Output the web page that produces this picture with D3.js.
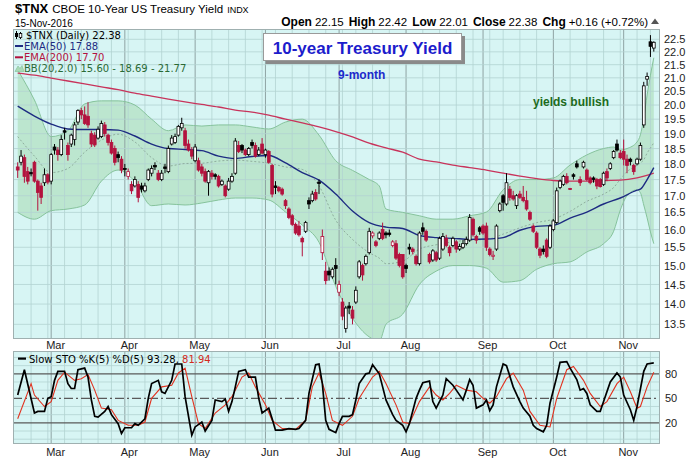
<!DOCTYPE html>
<html>
<head>
<meta charset="utf-8">
<script src="https://cdn.jsdelivr.net/npm/d3@7"></script>
<style>
body { margin: 0; background: #fff; }
svg text { font-family: "Liberation Sans", Arial, sans-serif; }
.leg { font-family: "DejaVu Sans", Verdana, sans-serif; font-size: 10px; }
</style>
</head>
<body>
<svg id="chart" width="700" height="460"></svg>
<script>
// trading calendar, Feb 16 - Nov 15 2016 (market holidays left out)
var firstDay = "2016-02-16";
var lastDay = "2016-11-15";
var holidays = ["2016-03-25", "2016-05-30", "2016-07-04", "2016-09-05", "2016-11-11"];

// daily candles for $TNX
var open = [17.90,18.05,18.20,17.75,17.72,18.05,17.45,17.30,17.40,17.65,
  17.45,18.55,18.45,18.30,19.10,18.60,18.65,18.80,19.40,19.80,
  19.65,19.60,19.00,18.95,18.85,18.90,19.30,18.95,18.70,18.50,
  18.30,18.15,17.85,17.60,17.35,17.30,17.35,17.30,17.15,17.50,
  17.70,17.95,17.70,17.50,17.90,17.75,18.65,18.70,18.95,19.20,
  19.10,18.65,18.45,18.10,18.10,17.90,17.75,17.40,17.70,17.65,
  17.60,17.35,17.30,17.20,17.45,17.70,18.60,18.60,18.45,18.30,
  18.70,18.60,18.30,18.65,18.30,18.40,17.95,17.30,17.25,17.20,
  16.85,16.60,16.40,16.15,16.10,15.75,15.95,16.85,16.85,17.10,
  17.42,15.35,14.85,14.85,14.70,15.00,14.30,14.05,13.40,13.95,
  13.85,14.05,14.70,15.00,15.05,15.35,15.82,15.65,15.75,16.00,
  15.90,15.90,15.55,15.60,15.30,15.30,15.00,15.50,15.45,15.25,
  15.05,16.05,15.95,15.30,15.15,15.35,15.20,15.45,15.75,15.50,
  15.55,15.65,15.45,15.50,15.60,15.70,16.30,15.80,16.05,16.10,
  16.10,15.45,15.25,15.45,16.55,17.00,16.75,17.20,17.00,16.70,
  17.05,16.95,16.85,16.50,16.10,15.90,15.45,15.45,15.70,15.50,
  16.00,16.20,17.25,17.35,17.60,17.22,17.65,18.00,17.50,17.90,
  17.80,17.55,17.55,17.50,17.50,17.35,17.75,17.85,18.20,18.65,
  18.35,18.40,18.15,18.15,17.95,18.00,18.15,19.30,20.95,22.40,
  22.15];
var high = [18.05,18.45,18.30,17.90,17.85,18.10,17.50,17.40,17.85,17.70,
  18.35,18.65,18.55,18.95,19.20,18.70,19.00,19.40,19.85,19.90,
  19.95,20.10,19.10,19.05,19.25,19.45,19.40,19.00,18.80,18.60,
  18.40,18.25,18.00,17.85,17.45,17.60,17.45,17.40,17.40,17.85,
  17.95,18.05,17.80,17.80,18.00,18.60,18.95,19.00,19.30,19.55,
  19.20,18.80,18.55,18.65,18.20,18.00,17.85,17.80,17.80,17.70,
  17.65,17.50,17.35,17.55,17.70,18.85,18.75,18.65,18.50,18.55,
  18.80,18.70,18.55,18.85,18.50,18.45,18.00,17.45,17.30,17.25,
  16.90,16.65,16.45,16.20,16.25,15.80,16.25,16.95,17.15,17.20,
  17.50,16.00,15.10,14.95,14.95,15.20,14.60,14.15,13.95,14.05,
  13.95,14.45,15.15,15.05,15.30,16.05,15.95,15.70,15.95,16.20,
  15.95,16.00,15.70,15.70,15.35,15.30,15.05,15.60,15.50,15.30,
  15.95,16.20,16.00,15.35,15.45,15.40,15.80,15.90,15.85,15.55,
  15.80,15.70,15.60,15.70,15.80,16.45,16.35,15.85,16.10,16.15,
  16.20,15.50,15.40,16.15,16.80,17.05,17.70,17.30,17.15,17.05,
  17.15,17.30,17.15,16.55,16.15,15.95,15.50,15.55,15.75,16.15,
  16.30,17.25,17.50,17.65,17.70,17.24,17.70,18.10,17.60,18.10,
  17.85,17.60,17.60,17.55,17.55,17.75,17.85,18.05,18.45,18.80,
  18.45,18.80,18.30,18.20,18.00,18.20,18.70,20.85,21.20,22.67,
  22.42];
var low = [17.55,17.95,17.40,17.35,17.60,17.40,16.55,16.75,17.30,17.35,
  17.35,18.30,18.10,18.25,18.80,18.10,18.55,18.60,19.30,19.50,
  19.30,19.20,18.55,18.55,18.80,18.85,18.90,18.60,18.30,17.95,
  18.05,17.70,17.60,17.50,17.05,17.25,16.80,17.10,17.10,17.45,
  17.60,17.80,17.45,17.45,17.70,17.70,18.60,18.65,18.90,19.10,
  18.50,18.40,18.15,18.05,17.75,17.60,17.40,17.00,17.50,17.50,
  17.25,17.30,16.95,17.15,17.40,17.65,18.35,18.35,18.25,18.25,
  18.50,18.20,18.25,18.30,18.20,18.00,16.95,17.05,17.10,17.00,
  16.60,16.30,16.10,15.85,15.80,15.25,15.90,16.60,16.80,16.85,
  17.05,15.15,14.50,14.60,14.65,14.50,14.20,13.60,13.30,13.75,
  13.50,14.00,14.65,14.60,15.00,15.30,15.75,15.50,15.70,15.70,
  15.75,15.80,15.50,15.15,14.95,14.65,14.80,15.30,15.30,15.00,
  15.00,15.85,15.65,15.05,15.10,15.10,15.15,15.40,15.50,15.25,
  15.50,15.35,15.40,15.45,15.55,15.65,15.80,15.60,15.85,15.85,
  15.40,15.25,15.15,15.40,16.50,16.55,16.70,16.85,16.85,16.60,
  16.90,16.80,16.55,16.25,15.90,15.45,15.20,15.30,15.20,15.45,
  15.95,16.15,17.20,17.30,17.35,17.18,17.50,17.85,17.30,17.85,
  17.45,17.35,17.40,17.20,17.25,17.30,17.45,17.80,18.15,18.40,
  18.15,17.95,17.70,17.95,17.65,17.95,18.10,19.20,20.70,21.80,
  22.01];
var close = [17.80,18.25,17.60,17.45,17.68,17.45,17.10,16.95,17.65,17.42,
  18.30,18.45,18.30,18.80,19.05,18.30,18.95,19.30,19.80,19.65,
  19.35,19.30,18.65,18.62,19.15,19.35,19.00,18.70,18.35,18.05,
  18.20,17.80,17.82,17.75,17.15,17.50,16.95,17.20,17.30,17.80,
  17.85,17.90,17.50,17.70,17.85,18.50,18.85,18.90,19.25,19.35,
  18.60,18.45,18.25,18.55,17.80,17.70,17.45,17.75,17.60,17.60,
  17.30,17.45,17.00,17.45,17.60,18.75,18.40,18.45,18.30,18.50,
  18.60,18.25,18.45,18.35,18.45,18.05,17.05,17.25,17.15,17.05,
  16.70,16.35,16.15,15.90,15.85,15.65,16.20,16.75,17.05,16.90,
  17.38,15.80,14.60,14.75,14.90,14.92,14.50,13.70,13.90,13.90,
  13.65,14.35,15.10,14.75,15.25,15.95,15.90,15.55,15.90,15.75,
  15.85,15.86,15.65,15.20,15.00,14.70,14.92,15.45,15.38,15.05,
  15.90,15.95,15.70,15.10,15.40,15.15,15.75,15.80,15.55,15.35,
  15.75,15.45,15.52,15.60,15.72,16.35,15.85,15.70,15.95,15.90,
  15.50,15.30,15.28,16.10,16.75,16.80,17.40,16.95,16.90,17.00,
  16.95,16.85,16.60,16.30,15.95,15.50,15.28,15.38,15.25,16.10,
  16.25,17.15,17.45,17.60,17.40,17.20,17.60,17.90,17.40,18.05,
  17.50,17.40,17.50,17.30,17.28,17.70,17.55,18.00,18.40,18.45,
  18.20,18.15,17.95,18.08,17.75,18.15,18.60,20.70,21.05,22.22,
  22.38];

// overlays, read at sample days (index into the trading calendar)
var ema50Days = [0,5,10,15,20,25,30,35,40,45,50,55,60,65,70,75,80,85,90,95,
  100,105,110,115,120,125,130,135,140,145,150,155,160,165,170,175,180,185,186,188,190];
var ema50 = [19.96,19.61,19.33,19.16,19.14,19.14,19.12,18.92,18.65,18.50,
  18.47,18.43,18.25,18.17,18.24,18.27,18.03,17.72,17.48,17.05,
  16.54,16.20,16.07,16.03,15.83,15.77,15.75,15.72,15.73,15.77,
  15.98,16.09,16.12,16.33,16.51,16.75,16.93,17.17,17.20,17.50,17.88];
var ema200Days = [0,5,10,15,20,25,30,35,40,45,50,55,60,65,70,75,80,85,90,95,
  100,105,110,115,120,125,130,135,140,145,150,155,160,165,170,175,180,185,190];
var ema200 = [21.18,21.10,20.99,20.88,20.77,20.66,20.56,20.43,20.32,20.21,
  20.11,20.02,19.93,19.82,19.75,19.64,19.50,19.37,19.23,19.07,
  18.89,18.68,18.52,18.38,18.15,18.06,17.96,17.88,17.80,17.70,
  17.61,17.53,17.47,17.45,17.45,17.47,17.48,17.55,17.70];
var bbDays = [0,5,10,15,20,25,30,35,40,45,50,55,60,65,70,75,80,85,90,95,
  100,105,108,110,115,120,125,130,135,140,145,150,155,160,165,170,175,178,180,182,
  185,186,187,188,189,190];
var bbUpper = [21.30,20.18,18.90,19.10,20.04,20.15,20.15,20.00,19.50,19.10,
  19.30,19.26,19.30,19.30,19.23,19.16,19.40,19.50,18.95,18.10,
  17.79,17.50,17.30,16.60,16.50,16.40,16.30,16.30,16.40,16.51,
  17.18,17.50,17.50,17.55,17.96,18.29,18.50,18.55,18.45,18.50,
  18.72,18.96,19.54,20.36,21.10,21.77];
var bbMiddle = [18.90,18.25,17.72,17.85,18.38,18.78,18.98,18.72,18.20,17.93,
  18.01,18.02,18.09,18.12,18.08,18.02,17.90,17.82,17.30,16.27,
  15.72,15.35,15.20,15.05,15.12,15.45,15.57,15.65,15.70,15.72,
  15.87,16.05,16.20,16.30,16.53,16.83,17.05,17.25,17.51,17.75,
  17.95,18.03,18.13,18.35,18.52,18.69];
var bbLower = [16.50,16.30,16.55,16.60,16.72,17.45,17.80,17.44,16.70,16.75,
  16.72,16.78,16.87,16.93,16.93,16.87,16.51,16.13,15.64,14.45,
  13.65,13.20,13.10,13.50,13.75,14.50,14.85,15.00,15.00,14.93,
  14.56,14.60,14.90,15.05,15.10,15.37,15.60,15.95,16.57,17.00,
  17.18,17.09,16.72,16.34,15.93,15.60];

// slow stochastics, lower panel
var stoKDays = [0,2,5,6,8,9,10,11,12,14,15,16,17,18,20,21,22,23,24,26,
  27,28,30,31,32,34,35,36,38,39,40,42,43,44,46,47,49,50,52,53,
  55,56,58,59,61,62,63,64,65,66,68,69,71,72,73,75,76,77,79,81,
  83,84,86,87,89,90,91,92,93,95,96,97,99,100,101,102,104,105,106,108,
  109,110,112,113,115,116,117,119,120,121,123,124,125,127,128,130,131,133,134,135,
  136,137,139,140,141,142,143,145,146,148,150,151,153,154,155,157,158,159,161,162,
  164,165,167,168,169,170,171,173,174,175,177,179,180,181,183,184,185,187,188,190];
var stoK = [54,85,32,34,34,50,52,72,83,83,68,62,62,85,87,76,48,28,27,34,
  40,30,19,7,14,14,19,17,25,50,68,72,58,56,72,92,92,52,5,15,
  21,10,23,48,46,49,34,46,64,83,85,76,76,50,32,38,25,11,11,13,
  12,13,23,56,91,92,68,23,12,8,19,28,28,30,48,68,80,81,91,80,
  64,48,30,23,17,9,19,50,60,69,71,46,38,54,74,66,60,48,60,73,
  66,38,42,48,35,42,64,92,90,64,46,38,28,17,13,9,17,44,76,94,
  95,87,73,60,62,56,42,34,34,46,70,81,76,54,36,23,40,83,92,93.28];
var stoDDays = [0,4,5,8,10,12,14,17,19,21,23,25,28,30,33,36,38,40,43,46,
  48,50,52,54,56,59,62,64,67,69,71,74,76,79,83,86,88,90,92,94,
  97,100,102,106,108,110,113,115,117,120,123,125,127,129,131,134,137,139,141,143,
  146,148,151,153,156,159,161,164,166,169,171,174,176,179,181,183,185,186,188,190];
var stoD = [25,68,54,40,46,72,82,72,74,79,60,38,36,23,17,17,21,50,64,66,
  81,87,52,19,13,32,42,52,76,81,64,42,23,13,12,23,64,81,56,23,
  17,28,50,76,83,68,42,21,19,46,64,54,48,56,66,60,58,50,44,52,
  74,81,60,34,17,15,50,85,89,72,56,40,46,68,76,58,38,40,64,81.94];

// tick labels
var priceTicks = [13.5,14.0,14.5,15.0,15.5,16.0,16.5,17.0,17.5,18.0,18.5,19.0,19.5,20.0,20.5,21.0,21.5,22.0,22.5];
var stoTicks = [20,50,80];
var stoGrid = [0,10,30,40,60,70,90,100];

var parse = d3.timeParse("%Y-%m-%d");
var fmt = d3.timeFormat("%Y-%m-%d");
var days = d3.timeDay.range(parse(firstDay), d3.timeDay.offset(parse(lastDay), 1))
    .filter(function (d) { return d.getDay() > 0 && d.getDay() < 6 && holidays.indexOf(fmt(d)) < 0; });

var L = 13, R = 660, mainTop = 29, mainBot = 339, stoTop = 351, stoBot = 444;
var bg = "#d7f5f4", grid = "#b3d3d2", monthGrid = "#8fa3a3";
var red = "#b3123e";

var x = d3.scaleLinear().domain([0, days.length - 1]).range([17.7, 653.8]);
var y = d3.scaleLog().domain([13.15, 22.92]).range([mainBot, mainTop]);
var ys = d3.scaleLinear().domain([-5.9, 107.9]).range([stoBot, stoTop]);

var svg = d3.select("#chart");
var defs = svg.append("defs");
defs.append("clipPath").attr("id", "clipMain").append("rect")
    .attr("x", L).attr("y", mainTop).attr("width", R - L).attr("height", mainBot - mainTop);
defs.append("clipPath").attr("id", "clipSto").append("rect")
    .attr("x", L).attr("y", stoTop).attr("width", R - L).attr("height", stoBot - stoTop);

// panel backgrounds
[[mainTop, mainBot], [stoTop, stoBot]].forEach(function (p) {
    svg.append("rect").attr("x", L).attr("y", p[0]).attr("width", R - L).attr("height", p[1] - p[0])
        .attr("fill", bg);
});

var main = svg.append("g").attr("clip-path", "url(#clipMain)");
var sto = svg.append("g").attr("clip-path", "url(#clipSto)");

// bollinger band fill
var bb = bbDays.map(function (d, k) { return { i: d, u: bbUpper[k], m: bbMiddle[k], l: bbLower[k] }; });
main.append("path").datum(bb)
    .attr("d", d3.area().curve(d3.curveMonotoneX)
        .x(function (d) { return x(d.i); })
        .y0(function (d) { return y(d.l); })
        .y1(function (d) { return y(d.u); }))
    .attr("fill", "#bce6cf");

// week / month gridlines
var weekIdx = [], monthIdx = [];
days.forEach(function (d, i) {
    if (i === 0) return;
    if (d.getMonth() !== days[i - 1].getMonth()) monthIdx.push(i);
    else if (d.getDay() <= days[i - 1].getDay()) weekIdx.push(i);
});
[[main, mainTop, mainBot], [sto, stoTop, stoBot]].forEach(function (p) {
    p[0].selectAll(null).data(weekIdx).join("line")
        .attr("x1", function (i) { return x(i); }).attr("x2", function (i) { return x(i); })
        .attr("y1", p[1]).attr("y2", p[2]).attr("stroke", grid).attr("stroke-width", 0.8);
    p[0].selectAll(null).data(monthIdx).join("line")
        .attr("x1", function (i) { return x(i); }).attr("x2", function (i) { return x(i); })
        .attr("y1", p[1]).attr("y2", p[2]).attr("stroke", monthGrid).attr("stroke-width", 1);
});
main.selectAll(null).data(priceTicks).join("line")
    .attr("x1", L).attr("x2", R)
    .attr("y1", function (v) { return y(v); }).attr("y2", function (v) { return y(v); })
    .attr("stroke", grid).attr("stroke-width", 0.8);
sto.selectAll(null).data(stoGrid).join("line")
    .attr("x1", L).attr("x2", R)
    .attr("y1", function (v) { return ys(v); }).attr("y2", function (v) { return ys(v); })
    .attr("stroke", grid).attr("stroke-width", 0.8);

// band edges, middle, emas
var lineOf = function (key) {
    return d3.line().curve(d3.curveMonotoneX)
        .x(function (d) { return x(d.i); }).y(function (d) { return y(d[key]); });
};
main.append("path").datum(bb).attr("d", lineOf("u")).attr("fill", "none").attr("stroke", "#86c39c").attr("stroke-width", 1);
main.append("path").datum(bb).attr("d", lineOf("l")).attr("fill", "none").attr("stroke", "#86c39c").attr("stroke-width", 1);
main.append("path").datum(bb).attr("d", lineOf("m")).attr("fill", "none").attr("stroke", "#8fae9e")
    .attr("stroke-width", 1).attr("stroke-dasharray", "2,2");

var e200 = ema200Days.map(function (d, k) { return { i: d, v: ema200[k] }; });
var e50 = ema50Days.map(function (d, k) { return { i: d, v: ema50[k] }; });
main.append("path").datum(e200).attr("d", lineOf("v")).attr("fill", "none").attr("stroke", "#c8335b").attr("stroke-width", 1.3);
main.append("path").datum(e50).attr("d", lineOf("v")).attr("fill", "none").attr("stroke", "#1d2b82").attr("stroke-width", 1.4);

// candles
var bars = days.map(function (d, i) {
    return { i: i, o: open[i], h: high[i], l: low[i], c: close[i], p: i ? close[i - 1] : open[i] };
});
var colorOf = function (d) { return d.c < d.p ? red : "#000"; };
main.selectAll(".wick").data(bars).join("line").attr("class", "wick")
    .attr("x1", function (d) { return x(d.i); }).attr("x2", function (d) { return x(d.i); })
    .attr("y1", function (d) { return y(d.h); }).attr("y2", function (d) { return y(d.l); })
    .attr("stroke", colorOf).attr("stroke-width", 1);
main.selectAll(".body").data(bars).join("rect").attr("class", "body")
    .attr("x", function (d) { return x(d.i) - 1.4; }).attr("width", 2.8)
    .attr("y", function (d) { return y(Math.max(d.o, d.c)); })
    .attr("height", function (d) { return Math.max(1, Math.abs(y(d.o) - y(d.c))); })
    .attr("fill", function (d) { return d.c > d.o ? "#fff" : colorOf(d); })
    .attr("stroke", colorOf).attr("stroke-width", 0.8);

// stochastics
sto.selectAll(null).data(stoTicks).join("line")
    .attr("x1", L).attr("x2", R)
    .attr("y1", function (v) { return ys(v); }).attr("y2", function (v) { return ys(v); })
    .attr("stroke", "#5a5a5a").attr("stroke-width", 1.2)
    .attr("stroke-dasharray", function (v) { return v === 50 ? "9,3,2,3" : null; });
var stoLine = d3.line().x(function (d) { return x(d[0]); }).y(function (d) { return ys(d[1]); });
sto.append("path").datum(d3.zip(stoDDays, stoD)).attr("d", stoLine)
    .attr("fill", "none").attr("stroke", "#e2321f").attr("stroke-width", 1.1);
sto.append("path").datum(d3.zip(stoKDays, stoK)).attr("d", stoLine)
    .attr("fill", "none").attr("stroke", "#000").attr("stroke-width", 1.7);

// panel frames
[[mainTop, mainBot], [stoTop, stoBot]].forEach(function (p) {
    svg.append("rect").attr("x", L + 0.5).attr("y", p[0] + 0.5).attr("width", R - L - 1).attr("height", p[1] - p[0] - 1)
        .attr("fill", "none").attr("stroke", "#9fb0b0");
});

// axes
var styleAxis = function (g) {
    g.select(".domain").remove();
    g.selectAll("text").attr("font-family", "Liberation Sans, Arial, sans-serif").attr("font-size", 11).attr("fill", "#222");
};
svg.append("g").attr("transform", "translate(662,0)")
    .call(d3.axisRight(y).tickValues(priceTicks).tickSize(0).tickPadding(2).tickFormat(d3.format(".1f")))
    .call(styleAxis);
svg.append("g").attr("transform", "translate(662,0)")
    .call(d3.axisRight(ys).tickValues(stoTicks).tickSize(0).tickPadding(3))
    .call(styleAxis);
var monthName = function (i) { return d3.timeFormat("%b")(days[i]); };
[mainBot - 1, stoBot + 1].forEach(function (yy) {
    svg.append("g").attr("transform", "translate(4," + yy + ")")
        .call(d3.axisBottom(x).tickValues(monthIdx).tickSize(0).tickPadding(3).tickFormat(monthName))
        .call(styleAxis);
});

// header
var head = svg.append("text").attr("x", 15).attr("y", 13).attr("fill", "#000");
head.append("tspan").attr("font-weight", "bold").attr("font-size", 13).text("$TNX");
head.append("tspan").attr("font-size", 11.5).attr("dx", 4).text("CBOE 10-Year US Treasury Yield");
head.append("tspan").attr("font-size", 9).attr("dx", 4).text("INDX");
svg.append("text").attr("x", 15).attr("y", 27).attr("font-size", 10).text("15-Nov-2016");

var quote = svg.append("text").attr("x", 648).attr("y", 26).attr("text-anchor", "end").attr("fill", "#000");
[["Open", "22.15"], ["High", "22.42"], ["Low", "22.01"], ["Close", "22.38"], ["Chg", "+0.16 (+0.72%)"]].forEach(function (q, k) {
    quote.append("tspan").attr("font-weight", "bold").attr("font-size", 12).attr("dx", k ? 5 : 0).text(q[0]);
    quote.append("tspan").attr("font-size", 11.5).attr("dx", 3).text(q[1]);
});
svg.append("path").attr("d", "M651,24 L655,18.5 L659,24 Z").attr("fill", "#555");

// legend, main panel
var leg = svg.append("g").attr("class", "leg");
leg.append("line").attr("x1", 16.5).attr("x2", 16.5).attr("y1", 31).attr("y2", 39).attr("stroke", "#000");
leg.append("rect").attr("x", 15).attr("y", 33).attr("width", 3).attr("height", 4).attr("fill", "#000");
leg.append("line").attr("x1", 20.5).attr("x2", 20.5).attr("y1", 32).attr("y2", 39).attr("stroke", "#000");
leg.append("rect").attr("x", 19.2).attr("y", 33.5).attr("width", 2.6).attr("height", 4).attr("fill", "#fff").attr("stroke", "#000").attr("stroke-width", 0.8);
leg.append("text").attr("class", "leg").attr("x", 26).attr("y", 38.5).attr("fill", "#000").text("$TNX (Daily) 22.38");
leg.append("rect").attr("x", 15).attr("y", 45).attr("width", 8).attr("height", 2).attr("fill", "#1d2b82");
leg.append("text").attr("class", "leg").attr("x", 24).attr("y", 49.8).attr("fill", "#1d2b82").text("EMA(50) 17.88");
leg.append("rect").attr("x", 15).attr("y", 56.3).attr("width", 8).attr("height", 2).attr("fill", red);
leg.append("text").attr("class", "leg").attr("x", 24).attr("y", 61.1).attr("fill", red).text("EMA(200) 17.70");
leg.append("path").attr("d", "M15,71.5 L18,66 L20,68.5 L22,65.5 L24,71.5 Z").attr("fill", "#a9d9b6").attr("stroke", "#7fbf95").attr("stroke-width", 0.6);
leg.append("text").attr("class", "leg").attr("x", 24).attr("y", 72.4).attr("fill", "#2a6a35").text("BB(20,2.0) 15.60 - 18.69 - 21.77");

// legend, stochastics panel
leg.append("rect").attr("x", 18).attr("y", 357.5).attr("width", 8).attr("height", 2.2).attr("fill", "#000");
var stoLeg = leg.append("text").attr("class", "leg").attr("x", 29).attr("y", 362.5).attr("fill", "#000");
stoLeg.append("tspan").text("Slow STO %K(5) %D(5) 93.28, ");
stoLeg.append("tspan").attr("fill", "#d42a1c").text("81.94");

// annotations
svg.append("rect").attr("x", 266).attr("y", 36).attr("width", 199).attr("height", 28).attr("fill", "#8a8a8a");
svg.append("rect").attr("x", 263.5).attr("y", 33.5).attr("width", 198).attr("height", 27)
    .attr("fill", "#fff").attr("stroke", "#9a9a9a");
svg.append("text").attr("x", 362.5).attr("y", 54).attr("text-anchor", "middle").attr("font-weight", "bold")
    .attr("font-size", 17).attr("fill", "#1c1ccc").text("10-year Treasury Yield");
svg.append("text").attr("x", 338).attr("y", 79).attr("font-weight", "bold").attr("font-size", 12)
    .attr("fill", "#1c2acb").text("9-month");
svg.append("text").attr("x", 533).attr("y", 106).attr("font-weight", "bold").attr("font-size", 12)
    .attr("fill", "#1d6b1d").text("yields bullish");
</script>
</body>
</html>
